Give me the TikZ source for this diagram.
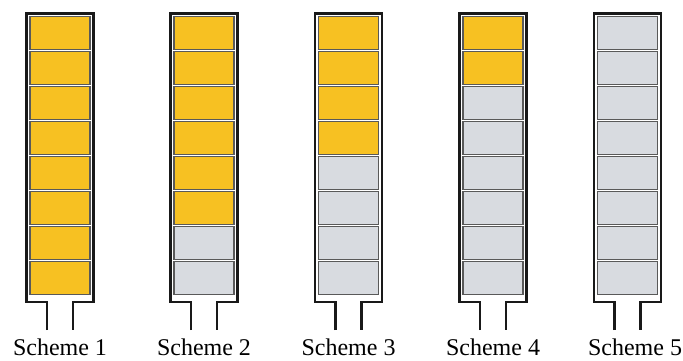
\documentclass[tikz,border=0pt]{standalone}
\usepackage{fontspec}
\setmainfont{Liberation Serif}
\usetikzlibrary{positioning}
\definecolor{cellyellow}{HTML}{F7C122}
\definecolor{cellgray}{HTML}{D8DBE0}

\begin{document}
\begin{tikzpicture}[x=1pt, y=-1pt,
    cellbox/.style={draw=black!65, line width=1.4pt, minimum width=60pt, minimum height=33pt, inner sep=0pt},
    frameline/.style={draw=black!90, line width=2.8pt, line join=miter},
    schemelabel/.style={font=\fontsize{24}{28}\selectfont, anchor=base}]
  \useasboundingbox (0,0) rectangle (683,360);
  % Schemes: centre / label position / number / yellow cells
  \foreach \cx/\lx/\n/\k in {60/60/1/8, 204/204/2/6, 348.5/348.5/3/4, 493/493/4/2, 627.5/635/5/0} {
    % Frame with outlet
    \draw[frameline] (\cx-13,330) -- (\cx-13,302) -- (\cx-33.5,302) -- (\cx-33.5,13.5)
      -- (\cx+33.5,13.5) -- (\cx+33.5,302) -- (\cx+13,302) -- (\cx+13,330);
    % Cells, top to bottom
    \foreach \i in {1,...,8} {
      \ifnum\i>\k\def\cellcol{cellgray}\else\def\cellcol{cellyellow}\fi
      \node[cellbox, fill=\cellcol] (s\n-\i) at (\cx, 33+35*\i-35) {};
    }
    % Label
    \node[schemelabel] (lbl\n) at (\lx,355) {Scheme \n};
  }
\end{tikzpicture}
\end{document}
